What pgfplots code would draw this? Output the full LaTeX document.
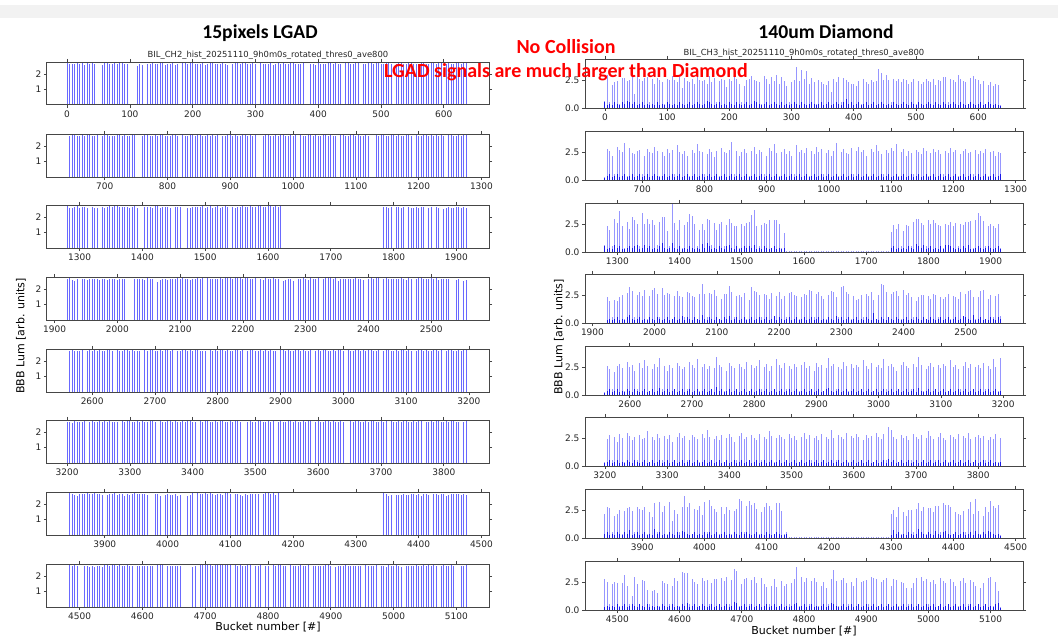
\documentclass[border=0pt]{standalone}
\usepackage{pgfplots}
\pgfplotsset{compat=1.18}
\usepackage{pgfplotstable}
\usepackage{fontspec}
\setmainfont{DejaVu Sans}
\newfontfamily\carlito{Carlito}
\definecolor{lg}{RGB}{105,105,255}
\definecolor{dl}{RGB}{150,150,255}
\definecolor{dd}{RGB}{25,25,230}
\definecolor{spine}{RGB}{70,70,70}

\pgfplotsset{
  common/.style={scale only axis, axis on top, anchor=north west,
    xtick distance=100, tick align=outside, xtick pos=both, ytick pos=both,
    major tick length=1.6pt,
    tick style={spine, line width=0.35pt},
    axis line style={spine, line width=0.5pt},
    tick label style={font=\fontsize{4.5}{5}\selectfont, text=black!85, inner sep=1pt},
    /pgf/number format/assume math mode=true, /pgf/number format/1000 sep={},
    scaled ticks=false},
  lgad/.style={common, width=221pt, height=21.5pt, ymin=0, ymax=2.8, ytick={1,2}},
  diam/.style={common, width=219pt, height=24.5pt, ymin=0, ymax=4.4, ytick={0,2.5},
    yticklabel style={/pgf/number format/.cd, fixed, fixed zerofill, precision=1}},
  lbar/.style={ycomb, no markers, draw=lg, line width=0.45pt},
  dbar/.style={ycomb, no markers, draw=dl, line width=0.45pt},
  sbar/.style={ycomb, no markers, draw=dd, line width=0.45pt},
}

% Diamond data: tall value, short (dark) value per 4-bucket slot
\pgfplotstableread[row sep=\\, header=false]{
0.6 0.5\\3.0 0.3\\0.5 0.4\\2.1 0.3\\2.3 0.5\\2.4 0.4\\0.4 0.3\\2.7 0.5\\2.7 0.4\\2.4 0.6\\
2.5 0.5\\2.9 0.4\\1.3 0.5\\2.8 0.3\\2.6 0.4\\2.4 0.5\\2.7 0.3\\2.8 0.4\\0.5 0.3\\2.6 0.4\\
2.2 0.3\\2.7 0.5\\2.5 0.3\\2.3 0.4\\0.4 0.3\\2.6 0.5\\2.5 0.4\\2.9 0.3\\2.5 0.4\\2.3 0.3\\
2.8 0.5\\1.8 0.4\\2.7 0.3\\2.4 0.4\\2.3 0.5\\2.6 0.3\\2.2 0.4\\2.9 0.5\\2.5 0.4\\2.4 0.3\\
2.5 0.4\\2.2 0.6\\2.9 0.5\\2.3 0.4\\2.7 0.3\\0.5 0.4\\2.4 0.5\\2.6 0.3\\2.5 0.4\\1.9 0.3\\
2.6 0.5\\2.4 0.4\\2.8 0.3\\2.6 0.5\\2.2 0.4\\0.5 0.3\\2.0 0.4\\2.5 0.5\\2.6 0.3\\2.9 0.4\\
2.5 0.6\\2.4 0.5\\2.3 0.4\\0.4 0.3\\2.9 0.4\\2.6 0.5\\2.2 0.3\\2.8 0.4\\2.4 0.5\\3.0 0.4\\
2.2 0.3\\2.8 0.5\\2.4 0.3\\2.0 0.4\\0.5 0.3\\2.3 0.4\\2.5 0.5\\3.7 0.4\\2.4 0.3\\3.4 0.5\\
2.6 0.4\\3.3 0.3\\2.2 0.4\\2.7 0.5\\2.3 0.4\\0.4 0.3\\2.5 0.4\\2.3 0.5\\2.2 0.3\\2.1 0.4\\
2.4 0.5\\1.4 0.3\\2.6 0.4\\2.3 0.5\\2.8 0.4\\0.5 0.3\\2.7 0.5\\2.5 0.8\\2.3 0.4\\2.2 0.5\\
2.2 0.3\\2.0 0.4\\2.4 0.5\\0.4 0.3\\2.6 0.4\\2.3 0.5\\2.2 0.3\\2.5 0.4\\2.3 0.5\\2.4 0.3\\
3.5 0.4\\3.1 0.5\\2.5 0.4\\3.0 0.3\\2.5 0.4\\0.5 0.3\\2.6 0.5\\2.4 0.4\\2.6 0.3\\2.3 0.4\\
2.6 0.5\\2.5 0.4\\2.2 0.3\\2.3 0.5\\2.6 0.4\\0.4 0.3\\2.4 0.5\\2.2 0.4\\2.3 0.3\\2.6 0.4\\
2.4 0.5\\2.3 0.4\\2.6 0.3\\2.1 0.5\\2.5 0.4\\2.4 0.3\\2.8 0.5\\2.8 0.4\\0.5 0.3\\2.6 0.4\\
2.5 0.5\\2.3 0.4\\3.0 0.3\\2.6 0.5\\2.4 0.4\\2.3 0.3\\0.4 0.4\\2.7 0.5\\2.9 0.4\\2.6 0.3\\
2.5 0.4\\2.2 0.5\\2.4 0.3\\0.4 0.4\\2.1 0.5\\2.3 0.4\\2.0 0.3\\2.2 0.4\\2.1 0.3\\0.3 0.2\\
}\dA
\pgfplotstableread[row sep=\\, header=false]{
0.3 0.2\\2.8 0.4\\2.6 0.5\\2.2 0.3\\0.5 0.4\\3.0 0.5\\2.7 0.3\\2.5 0.4\\3.3 0.5\\0.4 0.3\\
2.9 0.4\\2.4 0.5\\2.3 0.3\\2.6 0.4\\2.7 0.5\\0.5 0.3\\2.2 0.4\\2.8 0.5\\2.5 0.3\\2.4 0.4\\
3.0 0.5\\2.6 0.4\\0.4 0.3\\2.5 0.4\\2.2 0.5\\2.8 0.3\\2.4 0.4\\2.7 0.5\\0.5 0.3\\3.1 0.4\\
2.5 0.5\\2.3 0.3\\2.6 0.4\\2.2 0.5\\0.4 0.3\\2.7 0.4\\2.4 0.5\\3.2 0.3\\2.6 0.4\\2.5 0.5\\
0.5 0.3\\2.3 0.4\\2.8 0.5\\2.5 0.3\\2.1 0.4\\2.6 0.5\\0.4 0.3\\2.9 0.4\\2.5 0.5\\2.4 0.3\\
2.7 0.4\\3.4 0.5\\0.5 0.3\\2.6 0.4\\2.2 0.5\\2.5 0.3\\2.8 0.4\\2.4 0.5\\0.4 0.3\\2.6 0.4\\
3.0 0.5\\2.3 0.3\\2.7 0.4\\2.5 0.5\\0.5 0.3\\2.2 0.4\\2.9 0.5\\2.6 0.3\\3.2 0.4\\2.4 0.5\\
0.4 0.3\\2.5 0.4\\2.8 0.5\\2.3 0.3\\2.6 0.4\\2.2 0.5\\0.5 0.3\\3.1 0.4\\2.5 0.5\\2.7 0.3\\
2.4 0.4\\2.9 0.5\\0.4 0.3\\2.6 0.4\\2.3 0.5\\3.0 0.3\\2.5 0.4\\2.8 0.5\\0.5 0.3\\2.4 0.4\\
2.7 0.5\\2.2 0.3\\2.6 0.4\\3.3 0.5\\0.4 0.3\\2.5 0.4\\2.8 0.5\\2.4 0.3\\2.3 0.4\\2.9 0.5\\
0.5 0.3\\2.6 0.4\\3.0 0.5\\2.5 0.3\\2.7 0.4\\2.2 0.5\\0.4 0.3\\2.8 0.4\\2.5 0.5\\3.1 0.3\\
2.6 0.4\\2.3 0.5\\0.5 0.3\\2.7 0.4\\2.4 0.5\\2.9 0.3\\2.6 0.4\\3.2 0.5\\0.4 0.3\\2.5 0.4\\
2.8 0.5\\2.2 0.3\\2.6 0.4\\2.4 0.5\\0.5 0.3\\2.7 0.4\\2.5 0.5\\2.3 0.3\\2.9 0.4\\2.6 0.5\\
0.4 0.3\\2.4 0.4\\2.8 0.5\\2.5 0.3\\2.7 0.4\\2.3 0.5\\0.5 0.3\\2.6 0.4\\2.4 0.5\\2.9 0.3\\
2.5 0.4\\2.7 0.5\\0.4 0.3\\2.3 0.4\\2.6 0.5\\2.8 0.3\\2.4 0.4\\2.5 0.5\\0.5 0.3\\2.7 0.4\\
2.3 0.5\\2.6 0.3\\2.4 0.4\\2.8 0.5\\0.4 0.3\\2.5 0.4\\2.6 0.5\\2.2 0.3\\2.5 0.4\\2.4 0.5\\
}\dB
\pgfplotstableread[row sep=\\, header=false]{
0.6 0.5\\2.3 0.3\\2.0 0.4\\0.5 0.3\\3.0 0.6\\2.6 0.4\\3.7 0.5\\2.3 0.3\\0.4 0.3\\2.7 0.4\\
2.1 0.5\\3.1 0.4\\2.9 0.5\\2.5 0.6\\0.5 0.3\\3.5 0.4\\2.5 0.6\\3.0 0.4\\2.5 0.5\\2.9 0.3\\
2.4 0.4\\0.6 0.3\\2.7 0.5\\3.1 0.8\\3.1 0.4\\1.9 0.3\\0.5 0.4\\4.3 0.8\\2.6 0.4\\2.0 0.3\\
2.9 0.5\\0.4 0.3\\2.4 0.4\\2.7 0.3\\3.4 0.5\\3.2 0.4\\2.5 0.3\\0.5 0.4\\2.0 0.3\\2.5 0.7\\
2.0 0.4\\3.0 0.8\\2.9 0.5\\0.6 0.3\\2.6 0.4\\2.0 0.3\\2.5 0.5\\2.7 0.4\\0.5 0.3\\2.4 0.5\\
3.0 0.6\\2.6 0.4\\2.3 0.3\\2.3 0.5\\0.4 0.3\\2.5 0.4\\2.3 0.5\\2.6 0.4\\2.7 0.5\\3.3 0.4\\
3.8 0.6\\2.3 0.3\\0.5 0.4\\2.4 0.3\\2.6 0.5\\2.5 0.4\\2.9 0.3\\0.4 0.4\\2.9 0.5\\2.9 0.3\\
2.5 0.4\\0.4 0.3\\1.7 0.4\\0.1 0\\0.12 0\\0.08 0\\0.1 0\\0.12 0\\0.1 0\\0.08 0\\
0.1 0\\0.12 0\\0.1 0\\0.08 0\\0.1 0\\0.12 0\\0.1 0\\0.1 0\\0.08 0\\0.1 0\\
0.12 0\\0.1 0\\0.08 0\\0.1 0\\0.12 0\\0.1 0\\0.08 0\\0.1 0\\0.12 0\\0.1 0\\
0.08 0\\0.1 0\\0.12 0\\0.1 0\\0.1 0\\0.08 0\\0.12 0\\0.1 0\\0.1 0\\0.08 0\\
0.1 0\\0.12 0\\0.1 0\\0.08 0\\0.1 0\\1.8 0.4\\2.4 0.5\\2.1 0.3\\2.5 0.4\\0.5 0.3\\
1.9 0.4\\2.4 0.3\\2.3 0.5\\0.5 0.4\\2.7 0.3\\3.0 0.7\\3.0 0.5\\2.6 0.4\\2.4 0.6\\0.5 0.3\\
2.9 0.4\\2.5 0.5\\2.9 0.3\\2.6 0.4\\2.4 0.3\\2.3 0.5\\0.4 0.3\\2.5 0.6\\2.4 0.6\\2.7 0.5\\
2.3 0.4\\2.6 0.3\\0.5 0.4\\2.5 0.3\\2.4 0.5\\2.7 0.4\\2.7 0.6\\2.8 0.3\\0.4 0.3\\2.9 0.4\\
3.5 0.5\\3.2 0.4\\2.8 0.3\\0.5 0.4\\2.3 0.5\\2.5 0.4\\2.3 0.3\\2.2 0.4\\2.5 0.5\\0.4 0.3\\
}\dC
\pgfplotstableread[row sep=\\, header=false]{
0 0\\2.3 0.3\\2.0 0.4\\0.5 0.3\\2.1 0.4\\2.0 0.5\\2.3 0.3\\2.5 0.4\\0.4 0.3\\2.7 0.5\\
3.2 0.7\\2.9 0.4\\0.5 0.3\\2.5 0.4\\2.8 0.5\\2.4 0.3\\3.0 0.4\\0.4 0.3\\2.4 0.5\\3.0 0.4\\
3.1 0.3\\2.6 0.5\\0.5 0.4\\3.1 0.3\\2.5 0.4\\2.7 0.5\\2.6 0.3\\0.4 0.4\\2.4 0.5\\2.9 0.3\\
2.4 0.4\\2.3 0.6\\0.5 0.3\\2.8 0.5\\2.7 0.4\\2.4 0.3\\2.3 0.5\\0.4 0.4\\2.6 0.3\\3.5 0.7\\
2.6 0.4\\0.5 0.3\\2.7 0.5\\2.6 0.4\\3.0 0.3\\2.4 0.5\\0.4 0.4\\2.2 0.3\\2.6 0.5\\2.6 0.4\\
3.3 0.6\\2.8 0.3\\0.5 0.4\\2.4 0.5\\2.5 0.3\\2.3 0.4\\2.7 0.5\\0.4 0.3\\2.1 0.4\\3.2 0.5\\
2.9 0.3\\2.8 0.4\\2.5 0.5\\0.5 0.3\\2.6 0.4\\2.5 0.5\\2.2 0.3\\2.7 0.4\\0.4 0.6\\2.4 0.3\\
2.8 0.5\\2.2 0.4\\2.4 0.3\\0.5 0.4\\2.7 0.5\\2.8 0.3\\2.5 0.4\\2.4 0.5\\0.4 0.3\\2.3 0.4\\
2.6 0.5\\2.5 0.3\\3.0 0.4\\2.9 0.5\\0.5 0.3\\2.6 0.4\\2.8 0.5\\2.4 0.3\\2.2 0.4\\0.4 0.3\\
2.5 0.5\\2.9 0.4\\2.8 0.3\\2.3 0.6\\0.5 0.4\\3.2 0.5\\3.3 0.3\\2.8 0.4\\2.6 0.5\\0.4 0.3\\
2.4 0.4\\2.1 0.5\\2.2 0.3\\2.5 0.4\\0.5 0.3\\2.6 0.5\\2.4 0.4\\2.8 0.3\\2.1 0.9\\0.4 0.4\\
2.5 0.3\\3.5 0.5\\3.4 0.4\\2.8 0.3\\0.5 0.5\\2.6 0.4\\2.8 0.3\\2.9 0.5\\2.4 0.4\\0.4 0.3\\
3.0 0.4\\2.5 0.5\\2.7 0.3\\2.3 0.4\\0.5 0.3\\2.0 0.5\\2.3 0.4\\2.5 0.3\\2.5 0.5\\0.4 0.4\\
2.4 0.3\\2.2 0.5\\2.6 0.4\\2.5 0.3\\0.5 0.4\\2.3 0.5\\2.2 0.3\\2.3 0.4\\2.6 0.5\\0.4 0.3\\
2.4 0.4\\2.3 0.5\\2.2 0.3\\2.8 0.4\\0.5 0.6\\2.6 0.5\\2.9 0.4\\3.0 0.3\\2.3 0.7\\0.4 0.3\\
2.3 0.4\\2.9 0.5\\3.0 0.3\\0.4 0.4\\2.2 0.3\\2.5 0.5\\0.5 0.4\\2.4 0.3\\2.6 0.5\\0.6 0.4\\
}\dD
\pgfplotstableread[row sep=\\, header=false]{
0.3 0.2\\2.6 0.4\\2.3 0.5\\0.5 0.3\\2.1 0.4\\2.6 0.5\\2.8 0.3\\2.4 0.4\\0.4 0.3\\3.0 0.5\\
2.5 0.4\\2.7 0.3\\2.2 0.5\\0.5 0.4\\2.9 0.3\\2.4 0.4\\3.1 0.5\\2.6 0.3\\0.4 0.4\\2.3 0.5\\
2.8 0.3\\2.5 0.4\\3.3 0.6\\0.5 0.3\\2.6 0.4\\2.2 0.5\\2.7 0.3\\2.4 0.4\\0.4 0.5\\2.9 0.3\\
2.6 0.4\\2.3 0.5\\2.5 0.3\\0.5 0.4\\3.0 0.5\\2.7 0.3\\2.4 0.4\\3.2 0.5\\0.4 0.3\\2.5 0.4\\
2.8 0.5\\2.3 0.3\\2.6 0.4\\0.5 0.5\\2.4 0.3\\3.4 0.7\\2.7 0.4\\2.5 0.5\\0.4 0.3\\2.2 0.4\\
2.9 0.5\\2.6 0.3\\2.4 0.4\\0.5 0.5\\2.8 0.3\\2.5 0.4\\2.3 0.5\\3.0 0.3\\0.4 0.4\\2.7 0.5\\
2.4 0.3\\2.6 0.4\\3.1 0.5\\0.5 0.3\\2.5 0.4\\2.8 0.5\\2.2 0.3\\2.6 0.4\\0.4 0.5\\3.2 0.3\\
2.7 0.4\\2.4 0.5\\2.9 0.3\\0.5 0.4\\2.6 0.5\\2.3 0.3\\2.8 0.4\\2.5 0.5\\0.4 0.3\\2.7 0.4\\
3.0 0.5\\2.4 0.3\\2.6 0.4\\0.5 0.5\\2.2 0.3\\2.9 0.4\\2.5 0.5\\2.7 0.3\\0.4 0.4\\2.4 0.5\\
3.3 0.6\\2.6 0.4\\2.8 0.3\\0.5 0.4\\2.5 0.5\\2.3 0.3\\3.0 0.4\\2.6 0.5\\0.4 0.3\\2.8 0.4\\
2.4 0.5\\2.7 0.3\\2.5 0.4\\0.5 0.5\\3.1 0.3\\2.6 0.4\\2.3 0.5\\2.9 0.3\\0.4 0.4\\2.5 0.5\\
2.7 0.3\\2.4 0.4\\3.2 0.5\\0.5 0.3\\2.6 0.4\\2.8 0.5\\2.5 0.3\\2.2 0.4\\0.4 0.5\\2.7 0.3\\
3.0 0.4\\2.6 0.5\\2.4 0.3\\0.5 0.4\\2.8 0.5\\2.5 0.3\\3.4 0.6\\2.7 0.4\\0.4 0.3\\2.3 0.4\\
2.6 0.5\\2.9 0.3\\2.5 0.4\\0.5 0.5\\2.7 0.3\\2.4 0.4\\2.8 0.5\\2.6 0.3\\0.4 0.4\\3.1 0.5\\
2.5 0.3\\2.7 0.4\\2.3 0.5\\0.5 0.3\\2.6 0.4\\3.0 0.5\\2.4 0.3\\2.8 0.4\\0.4 0.5\\2.5 0.3\\
2.7 0.4\\2.4 0.5\\2.9 0.3\\0.5 0.4\\2.6 0.5\\2.3 0.3\\3.2 0.4\\2.5 0.5\\0.4 0.3\\3.3 0.4\\
}\dE
\pgfplotstableread[row sep=\\, header=false]{
0.4 0.3\\2.4 0.4\\2.8 0.5\\0.5 0.3\\2.6 0.4\\2.2 0.5\\2.9 0.3\\2.5 0.4\\0.4 0.3\\3.0 0.5\\
2.7 0.4\\2.3 0.3\\2.6 0.5\\0.5 0.4\\2.8 0.3\\2.4 0.4\\2.5 0.5\\3.1 0.3\\0.4 0.4\\2.6 0.5\\
2.3 0.3\\2.9 0.4\\2.5 0.5\\0.5 0.3\\2.7 0.4\\2.4 0.5\\2.8 0.3\\2.2 0.4\\0.4 0.5\\2.6 0.3\\
3.0 0.4\\2.5 0.5\\2.7 0.3\\0.5 0.4\\2.3 0.5\\2.8 0.3\\2.6 0.4\\2.4 0.5\\0.4 0.3\\2.9 0.4\\
2.5 0.5\\3.2 0.3\\2.6 0.4\\0.5 0.5\\2.4 0.3\\2.7 0.4\\2.3 0.5\\2.8 0.3\\0.4 0.4\\2.5 0.5\\
2.9 0.3\\2.6 0.4\\2.2 0.5\\0.5 0.3\\2.7 0.4\\3.0 0.5\\2.4 0.3\\2.6 0.4\\0.4 0.5\\2.8 0.3\\
2.5 0.4\\2.3 0.5\\2.9 0.3\\0.5 0.4\\2.6 0.5\\2.4 0.3\\3.1 0.4\\2.7 0.5\\0.4 0.3\\2.5 0.4\\
2.8 0.5\\2.6 0.3\\2.4 0.4\\0.5 0.5\\2.9 0.3\\2.5 0.4\\2.7 0.5\\2.3 0.3\\0.4 0.4\\2.6 0.5\\
3.0 0.3\\2.4 0.4\\2.8 0.5\\0.5 0.3\\2.5 0.4\\2.7 0.5\\2.3 0.3\\2.9 0.4\\0.4 0.5\\2.6 0.3\\
2.4 0.4\\3.2 0.5\\2.5 0.3\\0.5 0.4\\2.8 0.5\\2.6 0.3\\2.4 0.4\\3.0 0.5\\0.4 0.3\\2.7 0.4\\
2.5 0.5\\2.9 0.3\\2.6 0.4\\0.5 0.5\\2.3 0.3\\2.8 0.4\\2.5 0.5\\2.7 0.3\\0.4 0.4\\3.0 0.5\\
2.6 0.3\\2.4 0.4\\2.9 0.5\\0.5 0.3\\3.5 0.6\\3.2 0.4\\2.6 0.5\\2.4 0.3\\0.4 0.4\\2.8 0.5\\
2.5 0.3\\2.7 0.4\\2.3 0.5\\0.5 0.3\\2.9 0.4\\2.6 0.5\\2.4 0.3\\2.8 0.4\\0.4 0.5\\2.5 0.3\\
3.1 0.4\\2.7 0.5\\2.4 0.3\\0.5 0.4\\2.6 0.5\\3.0 0.3\\2.5 0.4\\2.3 0.5\\0.4 0.3\\2.8 0.4\\
2.6 0.5\\2.4 0.3\\2.9 0.4\\0.5 0.5\\2.7 0.3\\2.5 0.4\\3.0 0.5\\2.4 0.3\\0.4 0.4\\2.6 0.5\\
2.8 0.3\\2.5 0.4\\2.7 0.5\\0.5 0.3\\2.3 0.4\\2.6 0.5\\2.4 0.3\\2.9 0.4\\0.4 0.3\\2.5 0.4\\
}\dF
\pgfplotstableread[row sep=\\, header=false]{
2.2 0.4\\2.8 0.5\\2.7 0.3\\0.5 0.4\\2.0 0.3\\2.2 0.5\\2.5 0.4\\0.4 0.3\\2.4 0.5\\2.7 0.4\\
2.8 0.7\\2.4 0.3\\0.5 0.4\\2.8 0.5\\2.6 0.3\\2.5 0.4\\2.8 0.5\\0.4 0.3\\2.3 0.4\\1.9 0.3\\
3.1 0.8\\0.5 0.4\\3.2 0.5\\2.3 0.3\\2.9 0.4\\0.4 0.3\\3.2 0.5\\1.5 0.4\\2.5 0.3\\2.2 0.5\\
0.5 0.3\\2.8 0.6\\3.8 0.5\\2.8 0.4\\3.1 0.3\\0.4 0.4\\2.6 0.5\\2.5 0.3\\2.9 0.4\\2.1 0.3\\
3.2 0.5\\0.5 0.4\\3.4 0.5\\2.9 0.3\\2.6 0.4\\2.3 0.5\\0.4 0.3\\2.8 0.4\\2.2 0.5\\2.8 0.3\\
2.5 0.4\\0.4 0.3\\2.4 0.5\\2.6 0.4\\3.5 0.3\\3.3 0.5\\0.5 0.4\\2.9 0.5\\3.3 0.4\\3.0 0.3\\
3.1 0.4\\2.6 0.5\\0.4 0.3\\2.3 0.4\\2.8 0.3\\3.1 0.5\\2.9 0.4\\2.5 0.3\\0.4 0.4\\3.1 0.5\\
3.1 0.4\\2.4 0.3\\0.4 0.3\\0.5 0.4\\0.08 0\\0.1 0\\0.08 0\\0.1 0\\0.06 0\\0.08 0\\
0.1 0\\0.08 0\\0.06 0\\0.1 0\\0.08 0\\0.1 0\\0.06 0\\0.08 0\\0.1 0\\0.08 0\\
0.06 0\\0.1 0\\0.08 0\\0.1 0\\0.06 0\\0.08 0\\0.1 0\\0.08 0\\0.06 0\\0.1 0\\
0.08 0\\0.1 0\\0.06 0\\0.08 0\\0.1 0\\0.08 0\\0.06 0\\0.1 0\\0.08 0\\0.1 0\\
0.06 0\\0.08 0\\0.1 0\\0.08 0\\0.06 0\\2.2 0.3\\2.5 0.7\\1.9 0.4\\2.8 0.5\\0.4 0.3\\
2.3 0.4\\2.0 0.3\\2.5 0.5\\2.5 0.4\\0.5 0.3\\2.6 0.4\\3.1 0.8\\2.4 0.5\\2.8 0.4\\0.4 0.3\\
2.7 0.5\\2.7 0.4\\2.3 0.3\\2.9 0.6\\2.9 0.4\\0.5 0.3\\3.1 0.5\\3.0 0.6\\3.0 0.4\\2.8 0.3\\
0.4 0.4\\2.3 0.5\\2.2 0.3\\2.1 0.4\\2.4 0.5\\0.5 0.3\\2.6 0.4\\3.2 0.5\\2.2 0.3\\3.5 0.6\\
2.4 0.4\\0.4 0.3\\2.0 0.5\\2.8 0.4\\2.3 0.6\\3.3 0.5\\2.9 0.4\\2.7 0.3\\3.0 0.4\\0.3 0.2\\
}\dG
\pgfplotstableread[row sep=\\, header=false]{
2.8 0.3\\2.5 0.4\\0.5 0.3\\2.3 0.4\\2.5 0.3\\2.4 0.5\\0.4 0.3\\2.4 0.4\\3.1 0.5\\2.2 0.3\\
0.5 0.4\\1.3 0.5\\3.0 0.4\\2.3 0.3\\0.4 0.5\\2.7 0.4\\2.6 0.3\\1.8 0.5\\0.5 0.3\\1.7 0.4\\
1.8 0.3\\1.5 0.4\\0.4 0.3\\2.6 0.5\\2.4 0.4\\2.3 0.3\\0.5 0.4\\2.2 0.5\\2.9 0.3\\2.6 0.4\\
0.4 0.3\\3.4 0.5\\3.3 0.4\\3.3 0.6\\0.5 0.3\\2.8 0.4\\2.5 0.5\\2.3 0.3\\0.4 0.4\\2.9 0.5\\
2.6 0.4\\2.7 0.3\\0.5 0.4\\2.4 0.5\\2.8 0.3\\2.8 0.4\\0.4 0.5\\2.9 0.3\\2.6 0.4\\3.0 0.5\\
0.5 0.3\\2.7 0.4\\3.7 0.7\\3.5 0.6\\0.4 0.3\\2.3 0.4\\2.8 0.5\\2.9 0.3\\0.5 0.4\\2.7 0.5\\
3.0 0.3\\2.4 0.4\\0.4 0.5\\2.9 0.3\\2.3 0.4\\2.1 0.5\\0.5 0.3\\2.2 0.4\\2.8 0.5\\2.1 0.3\\
0.4 0.4\\2.6 0.5\\2.2 0.3\\2.3 0.4\\0.5 0.3\\2.4 0.4\\2.8 0.5\\3.9 0.6\\0.4 0.3\\3.0 0.4\\
2.5 0.5\\2.9 0.3\\0.5 0.4\\2.6 0.5\\2.9 0.3\\2.5 0.4\\0.4 0.3\\2.2 0.4\\2.5 0.5\\2.0 0.3\\
0.5 0.4\\2.8 0.6\\3.6 0.5\\2.6 0.4\\0.4 0.3\\2.7 0.4\\2.9 0.5\\2.4 0.3\\0.5 0.4\\2.5 0.5\\
2.2 0.3\\2.9 0.4\\0.4 0.5\\2.5 0.3\\2.6 0.4\\2.7 0.5\\0.5 0.3\\3.0 0.4\\2.9 0.5\\2.8 0.3\\
0.4 0.4\\2.5 0.5\\2.7 0.3\\2.9 0.4\\0.5 0.5\\2.2 0.3\\2.8 0.4\\2.7 0.5\\0.4 0.3\\2.5 0.4\\
2.4 0.5\\2.0 0.3\\0.5 0.4\\2.0 0.5\\2.4 0.3\\2.9 0.4\\0.4 0.5\\3.0 0.3\\2.6 0.4\\2.8 0.5\\
0.5 0.3\\2.5 0.4\\2.7 0.5\\2.3 0.3\\0.4 0.4\\2.9 0.5\\2.6 0.3\\2.4 0.4\\0.5 0.5\\2.8 0.3\\
2.5 0.4\\2.2 0.5\\0.4 0.3\\2.6 0.4\\2.9 0.5\\2.4 0.3\\0.5 0.4\\2.7 0.5\\2.5 0.3\\2.2 0.4\\
0.4 0.5\\2.0 0.3\\2.4 0.4\\0.5 0.5\\2.9 0.3\\3.0 0.4\\0.4 0.3\\2.5 0.5\\1.7 0.6\\0.3 0.2\\
}\dH

\newcommand{\onee}{\node[anchor=south west, inner sep=0pt, font=\fontsize{2.8}{3}\selectfont, text=black!85] at (rel axis cs:0,1) [yshift=0.8pt] {1e4};}

\begin{document}
\begin{tikzpicture}
\fill[white] (0,0) rectangle (529pt,-318.5pt);
\fill[black!5] (0,-2.5pt) rectangle (529pt,-9pt);
\path[use as bounding box] (0,0) rectangle (529pt,-318.5pt);

% ---------------- LGAD column ----------------
\begin{axis}[lgad, at={(23.5pt,-31pt)}, xmin=-32, xmax=672]
\addplot[lbar] table[row sep=\\, header=false, x expr=\coordindex*4, y index=0] {
2.8\\2.65\\2.7\\2.7\\2.75\\2.7\\2.8\\2.6\\2.75\\2.7\\
2.8\\2.65\\0\\0\\2.6\\2.75\\2.8\\2.7\\2.65\\2.75\\
2.7\\2.75\\2.8\\2.65\\2.7\\0\\0\\0\\2.55\\2.65\\
2.6\\0\\2.7\\2.7\\2.75\\2.65\\2.7\\2.8\\2.75\\2.6\\
2.65\\2.7\\2.75\\2.6\\2.65\\0\\2.75\\2.8\\2.7\\2.8\\
2.75\\2.7\\2.65\\2.7\\2.75\\2.6\\2.7\\2.75\\2.8\\2.7\\
2.65\\2.7\\2.75\\2.7\\2.6\\0\\2.7\\2.8\\2.75\\2.7\\
2.8\\2.75\\2.7\\2.65\\2.8\\2.7\\0\\2.75\\2.7\\2.65\\
2.7\\2.75\\2.6\\2.7\\2.8\\2.7\\2.75\\2.65\\2.7\\2.75\\
2.8\\2.7\\2.65\\2.7\\2.75\\0\\0\\2.65\\2.7\\2.6\\
2.75\\2.7\\2.65\\2.7\\2.75\\2.8\\2.7\\2.75\\2.7\\2.65\\
0\\2.75\\2.8\\2.7\\2.65\\2.8\\2.75\\0\\2.7\\2.65\\
2.8\\2.75\\2.7\\2.8\\2.75\\2.65\\2.7\\2.75\\2.8\\2.7\\
0\\2.7\\2.75\\2.8\\2.65\\2.7\\2.75\\2.8\\2.7\\2.65\\
2.7\\2.75\\2.8\\2.7\\2.65\\2.75\\2.8\\2.7\\2.75\\2.8\\
0\\2.65\\2.75\\2.7\\2.65\\2.75\\2.8\\2.7\\2.75\\2.8\\
};
\onee
\end{axis}

\begin{axis}[lgad, at={(23.5pt,-67pt)}, xmin=608, xmax=1312]
\addplot[lbar] table[row sep=\\, header=false, x expr=\coordindex*4+640, y index=0] {
0\\2.7\\2.75\\2.8\\2.7\\2.65\\2.75\\2.7\\2.8\\2.75\\
2.7\\2.65\\2.75\\0\\2.7\\2.8\\2.75\\2.7\\2.65\\2.7\\
2.75\\2.8\\2.7\\2.75\\2.65\\2.7\\2.8\\2.75\\0\\0\\
2.7\\2.75\\2.8\\2.7\\2.65\\2.75\\2.7\\2.8\\2.75\\2.7\\
2.65\\2.7\\2.8\\2.75\\2.7\\0\\2.75\\2.7\\2.65\\2.8\\
2.75\\2.7\\2.75\\2.8\\2.7\\2.65\\2.75\\2.7\\2.8\\2.7\\
2.75\\0\\2.7\\2.65\\2.75\\2.8\\2.7\\2.75\\2.7\\2.65\\
2.8\\2.75\\2.7\\2.75\\2.65\\2.8\\0\\0\\2.7\\2.75\\
2.8\\2.7\\2.65\\2.75\\2.7\\2.8\\2.75\\2.7\\2.65\\2.75\\
2.7\\2.8\\0\\2.75\\2.7\\2.65\\2.75\\2.8\\2.7\\2.75\\
2.65\\2.7\\2.8\\2.75\\2.7\\2.75\\2.65\\2.7\\0\\2.8\\
2.75\\2.7\\2.65\\2.75\\2.8\\2.7\\2.75\\2.7\\2.65\\2.8\\
2.7\\0\\0\\2.75\\2.7\\2.8\\2.75\\2.65\\2.7\\2.75\\
2.8\\2.7\\2.75\\2.65\\2.7\\2.8\\2.75\\2.7\\0\\2.75\\
2.7\\2.65\\2.8\\2.75\\2.7\\2.75\\2.65\\2.8\\2.7\\2.75\\
2.7\\0\\2.75\\2.8\\2.7\\2.65\\2.75\\2.7\\2.8\\2.75\\
};
\onee
\end{axis}

\begin{axis}[lgad, at={(23.5pt,-102.5pt)}, xmin=1248, xmax=1952]
\addplot[lbar] table[row sep=\\, header=false, x expr=\coordindex*4+1280, y index=0] {
2.8\\2.6\\2.6\\2.65\\2.75\\2.6\\2.7\\2.7\\2.6\\0\\
2.7\\2.6\\2.6\\0\\2.65\\2.6\\2.7\\2.75\\2.7\\2.8\\
2.8\\2.7\\2.65\\2.7\\2.7\\2.6\\2.7\\2.8\\2.6\\0\\
0\\2.7\\2.7\\2.65\\2.6\\2.75\\2.8\\2.6\\2.7\\2.65\\
2.65\\2.6\\0\\2.7\\2.7\\2.65\\0\\0\\2.6\\2.6\\
2.7\\2.7\\2.65\\2.7\\2.8\\2.6\\2.7\\2.75\\2.6\\2.7\\
2.75\\2.6\\2.7\\2.8\\2.7\\0\\2.7\\2.6\\2.7\\2.7\\
2.75\\2.7\\2.65\\2.8\\2.7\\2.7\\2.8\\2.75\\2.7\\2.7\\
2.75\\2.8\\2.7\\2.75\\2.7\\2.75\\0\\0\\0\\0\\
0\\0\\0\\0\\0\\0\\0\\0\\0\\0\\
0\\0\\0\\0\\0\\0\\0\\0\\0\\0\\
0\\0\\0\\0\\0\\0\\0\\0\\0\\0\\
0\\0\\0\\0\\0\\0\\2.7\\2.65\\2.6\\2.7\\
0\\2.65\\2.65\\2.6\\2.65\\0\\2.65\\2.6\\2.6\\2.65\\
2.6\\2.65\\2.7\\0\\2.6\\2.65\\0\\2.7\\2.6\\0\\
2.55\\2.6\\2.65\\2.6\\2.6\\2.65\\2.65\\2.6\\2.65\\2.6\\
};
\onee
\end{axis}

\begin{axis}[lgad, at={(23.5pt,-138.5pt)}, xmin=1888, xmax=2592]
\addplot[lbar] table[row sep=\\, header=false, x expr=\coordindex*4+1920, y index=0] {
2.7\\2.75\\2.6\\2.55\\2.65\\0\\2.7\\2.65\\2.6\\2.7\\
2.7\\2.65\\2.7\\2.6\\2.7\\2.65\\2.6\\2.7\\2.65\\2.7\\
2.6\\2.7\\2.65\\2.7\\0\\0\\0\\2.7\\2.7\\2.65\\
2.7\\2.6\\2.75\\2.65\\2.7\\0\\2.5\\2.6\\2.7\\2.65\\
2.6\\2.7\\2.65\\2.7\\2.75\\2.7\\2.75\\2.7\\2.65\\2.6\\
2.7\\2.65\\2.75\\2.7\\2.75\\0\\2.75\\2.65\\2.7\\2.65\\
2.7\\2.75\\2.7\\2.75\\2.8\\2.75\\2.7\\2.75\\2.8\\2.75\\
2.7\\2.75\\2.8\\2.7\\2.65\\2.75\\0\\2.7\\2.6\\2.75\\
2.65\\2.7\\2.75\\2.7\\2.65\\0\\2.55\\2.6\\2.65\\2.7\\
2.55\\0\\2.7\\2.65\\2.75\\2.7\\2.6\\2.75\\2.7\\2.65\\
2.75\\0\\2.7\\2.75\\2.8\\2.75\\2.7\\2.75\\2.55\\2.7\\
2.65\\2.7\\2.7\\2.65\\2.7\\2.75\\2.7\\2.65\\2.6\\0\\
2.7\\2.75\\2.7\\2.75\\2.8\\0\\2.7\\2.75\\2.7\\2.7\\
2.7\\2.65\\2.7\\2.75\\2.7\\2.6\\2.75\\2.7\\0\\2.65\\
2.75\\2.75\\2.65\\2.7\\2.7\\2.75\\2.7\\2.8\\2.6\\2.7\\
2.65\\2.7\\2.65\\0\\0\\2.6\\2.65\\0\\2.55\\2.6\\
};
\onee
\end{axis}

\begin{axis}[lgad, at={(23.5pt,-174.5pt)}, xmin=2528, xmax=3232]
\addplot[lbar] table[row sep=\\, header=false, x expr=\coordindex*4+2560, y index=0] {
0\\2.7\\2.75\\2.7\\2.65\\2.7\\2.75\\0\\2.7\\2.75\\
2.7\\2.8\\2.7\\2.75\\2.7\\2.65\\2.75\\2.8\\2.7\\0\\
2.75\\2.7\\2.65\\2.75\\2.8\\2.7\\2.75\\2.7\\2.65\\2.7\\
0\\2.75\\2.7\\2.8\\2.75\\2.7\\2.65\\2.75\\2.7\\2.8\\
2.75\\2.7\\2.75\\0\\2.7\\2.65\\2.75\\2.8\\2.7\\2.75\\
2.7\\2.8\\2.75\\2.7\\2.65\\2.7\\0\\2.75\\2.7\\2.8\\
2.7\\2.75\\2.8\\2.7\\2.75\\2.65\\2.7\\2.75\\2.8\\2.7\\
2.75\\0\\2.7\\2.8\\2.75\\2.7\\2.65\\2.75\\2.7\\2.8\\
2.7\\2.75\\2.7\\2.65\\0\\2.75\\2.8\\2.7\\2.75\\2.7\\
2.65\\2.8\\2.75\\2.7\\2.75\\2.7\\2.65\\2.8\\0\\2.7\\
2.75\\2.7\\2.8\\2.75\\2.7\\2.65\\2.75\\2.7\\2.8\\2.75\\
2.7\\0\\2.75\\2.7\\2.65\\2.75\\2.8\\2.7\\2.75\\2.7\\
2.8\\2.75\\2.7\\2.65\\2.75\\0\\2.7\\2.8\\2.75\\2.7\\
2.65\\2.75\\2.7\\2.8\\2.75\\2.7\\2.75\\2.65\\0\\2.7\\
2.75\\2.8\\2.7\\2.75\\2.7\\2.65\\2.75\\2.8\\2.7\\2.75\\
0\\2.7\\2.75\\2.8\\2.7\\2.65\\2.75\\2.7\\2.8\\2.75\\
};
\onee
\end{axis}

\begin{axis}[lgad, at={(23.5pt,-210pt)}, xmin=3168, xmax=3872]
\addplot[lbar] table[row sep=\\, header=false, x expr=\coordindex*4+3200, y index=0] {
2.65\\2.7\\2.6\\2.75\\2.7\\2.65\\2.7\\2.75\\0\\2.7\\
2.75\\2.7\\2.65\\2.75\\2.7\\2.8\\2.7\\2.75\\2.65\\2.7\\
2.7\\0\\2.75\\2.7\\2.8\\2.75\\2.7\\2.65\\2.75\\2.7\\
2.75\\2.7\\2.65\\2.75\\2.8\\2.7\\0\\2.75\\2.7\\2.65\\
2.75\\2.8\\2.7\\2.75\\2.7\\2.65\\2.75\\2.7\\2.8\\2.75\\
2.7\\2.65\\0\\2.75\\2.7\\2.8\\2.75\\2.7\\2.65\\2.75\\
2.7\\2.75\\2.8\\2.7\\2.65\\2.75\\2.7\\2.8\\2.75\\2.7\\
0\\0\\2.7\\2.75\\2.65\\2.7\\2.8\\2.75\\2.7\\2.65\\
2.75\\2.7\\2.8\\0\\2.7\\2.75\\2.7\\2.65\\2.75\\2.8\\
2.7\\2.75\\2.7\\2.65\\2.75\\2.7\\2.8\\2.75\\0\\2.7\\
2.75\\2.7\\2.65\\2.75\\2.8\\2.7\\2.75\\2.7\\2.65\\2.75\\
2.7\\0\\0\\2.75\\2.7\\2.8\\2.75\\2.7\\2.65\\2.75\\
2.7\\2.8\\2.75\\2.7\\2.65\\2.75\\2.7\\2.8\\0\\2.75\\
2.7\\2.65\\2.75\\2.7\\2.8\\2.75\\2.7\\2.65\\2.75\\2.7\\
2.8\\2.75\\0\\2.7\\2.65\\2.75\\2.7\\2.8\\2.75\\2.7\\
2.65\\2.75\\2.7\\2.8\\2.75\\2.7\\2.65\\0\\2.7\\2.75\\
};
\onee
\end{axis}

\begin{axis}[lgad, at={(23.5pt,-246pt)}, xmin=3808, xmax=4512]
\addplot[lbar] table[row sep=\\, header=false, x expr=\coordindex*4+3840, y index=0] {
0\\2.75\\2.65\\2.6\\2.55\\2.7\\2.65\\2.7\\2.75\\2.7\\
2.65\\2.75\\2.65\\2.7\\2.6\\0\\2.6\\2.7\\2.65\\2.75\\
2.6\\2.7\\2.65\\2.55\\2.7\\2.6\\2.7\\2.75\\2.7\\2.7\\
2.65\\2.7\\2.6\\0\\0\\2.7\\2.7\\2.55\\0\\2.6\\
2.65\\2.6\\2.6\\2.65\\2.55\\2.6\\0\\0\\2.55\\2.6\\
2.75\\0\\2.75\\2.7\\2.7\\2.75\\2.7\\2.75\\2.7\\2.6\\
2.65\\2.7\\2.6\\2.75\\2.75\\2.7\\0\\2.7\\2.7\\2.6\\
2.55\\2.7\\2.6\\2.65\\2.7\\2.65\\2.7\\0\\2.7\\2.75\\
2.75\\2.7\\2.75\\2.6\\2.75\\0\\0\\0\\0\\0\\
0\\0\\0\\0\\0\\0\\0\\0\\0\\0\\
0\\0\\0\\0\\0\\0\\0\\0\\0\\0\\
0\\0\\0\\0\\0\\0\\0\\0\\0\\0\\
0\\0\\0\\0\\0\\0\\2.75\\2.65\\2.55\\2.6\\
0\\2.6\\2.6\\2.6\\2.65\\2.6\\2.6\\2.7\\2.65\\2.6\\
2.7\\2.55\\2.7\\2.65\\2.6\\0\\2.65\\2.7\\2.6\\2.7\\
2.65\\2.55\\2.6\\2.65\\2.7\\2.65\\2.7\\2.6\\2.65\\2.6\\
};
\onee
\end{axis}

\begin{axis}[lgad, at={(23.5pt,-282pt)}, xmin=4448, xmax=5152]
\addplot[lbar] table[row sep=\\, header=false, x expr=\coordindex*4+4480, y index=0] {
0\\2.75\\2.7\\2.75\\2.65\\0\\0\\2.7\\2.65\\2.6\\
2.7\\2.6\\2.65\\2.7\\2.6\\2.75\\2.8\\2.7\\2.75\\2.75\\
2.65\\2.75\\2.7\\2.7\\2.75\\2.65\\2.7\\0\\2.7\\2.65\\
2.65\\2.7\\2.65\\2.7\\2.7\\0\\2.8\\2.75\\2.8\\0\\
2.65\\2.7\\2.65\\2.7\\2.65\\2.7\\0\\0\\0\\0\\
2.6\\2.7\\0\\2.75\\2.8\\2.75\\2.8\\2.75\\2.7\\2.75\\
2.8\\2.75\\2.8\\2.75\\2.8\\2.8\\0\\2.75\\2.7\\2.75\\
2.7\\2.7\\2.75\\2.75\\0\\2.7\\2.7\\2.75\\0\\2.7\\
2.65\\0\\2.75\\2.7\\2.75\\2.75\\2.7\\2.65\\0\\2.75\\
2.7\\2.65\\2.7\\2.75\\2.65\\2.7\\2.75\\0\\2.65\\2.7\\
2.65\\2.7\\2.7\\2.75\\2.8\\2.7\\0\\2.6\\2.7\\2.65\\
2.7\\2.75\\2.65\\2.7\\2.65\\2.7\\2.65\\2.7\\0\\2.75\\
2.7\\2.65\\2.7\\2.75\\0\\2.7\\2.65\\2.6\\2.75\\2.7\\
2.65\\2.75\\2.7\\2.6\\0\\2.7\\2.7\\2.65\\2.7\\2.75\\
2.7\\2.65\\2.8\\2.7\\2.75\\2.7\\2.75\\2.7\\0\\2.65\\
2.75\\2.7\\2.65\\2.75\\2.7\\0\\0\\2.7\\2.7\\2.75\\
};
\onee
\end{axis}

% ---------------- Diamond column ----------------
\begin{axis}[diam, at={(292.5pt,-29.5pt)}, xmin=-32, xmax=672]
\addplot[dbar] table[x expr=\coordindex*4, y index=0] {\dA};
\addplot[sbar] table[x expr=\coordindex*4, y index=1] {\dA};
\end{axis}
\begin{axis}[diam, at={(292.5pt,-65.5pt)}, xmin=608, xmax=1312]
\addplot[dbar] table[x expr=\coordindex*4+640, y index=0] {\dB};
\addplot[sbar] table[x expr=\coordindex*4+640, y index=1] {\dB};
\end{axis}
\begin{axis}[diam, at={(292.5pt,-101.5pt)}, xmin=1248, xmax=1952]
\addplot[dbar] table[x expr=\coordindex*4+1280, y index=0] {\dC};
\addplot[sbar] table[x expr=\coordindex*4+1280, y index=1] {\dC};
\end{axis}
\begin{axis}[diam, at={(292.5pt,-137pt)}, xmin=1888, xmax=2592]
\addplot[dbar] table[x expr=\coordindex*4+1920, y index=0] {\dD};
\addplot[sbar] table[x expr=\coordindex*4+1920, y index=1] {\dD};
\end{axis}
\begin{axis}[diam, at={(292.5pt,-173pt)}, xmin=2528, xmax=3232]
\addplot[dbar] table[x expr=\coordindex*4+2560, y index=0] {\dE};
\addplot[sbar] table[x expr=\coordindex*4+2560, y index=1] {\dE};
\end{axis}
\begin{axis}[diam, at={(292.5pt,-208.5pt)}, xmin=3168, xmax=3872]
\addplot[dbar] table[x expr=\coordindex*4+3200, y index=0] {\dF};
\addplot[sbar] table[x expr=\coordindex*4+3200, y index=1] {\dF};
\end{axis}
\begin{axis}[diam, at={(292.5pt,-244.5pt)}, xmin=3808, xmax=4512]
\addplot[dbar] table[x expr=\coordindex*4+3840, y index=0] {\dG};
\addplot[sbar] table[x expr=\coordindex*4+3840, y index=1] {\dG};
\end{axis}
\begin{axis}[diam, at={(292.5pt,-280.5pt)}, xmin=4448, xmax=5152]
\addplot[dbar] table[x expr=\coordindex*4+4480, y index=0] {\dH};
\addplot[sbar] table[x expr=\coordindex*4+4480, y index=1] {\dH};
\end{axis}

% ---------------- texts ----------------
\node[font=\carlito\bfseries\fontsize{9.8}{12}\selectfont, anchor=base] at (130pt,-19.5pt) {15pixels LGAD};
\node[font=\carlito\bfseries\fontsize{9.8}{12}\selectfont, anchor=base] at (413pt,-19.5pt) {140um Diamond};
\node[font=\fontsize{4.2}{5}\selectfont, anchor=base, text=black!85] at (134pt,-28.5pt) {BIL\_CH2\_hist\_20251110\_9h0m0s\_rotated\_thres0\_ave800};
\node[font=\fontsize{4.2}{5}\selectfont, anchor=base, text=black!85] at (402pt,-27.5pt) {BIL\_CH3\_hist\_20251110\_9h0m0s\_rotated\_thres0\_ave800};
\node[font=\carlito\bfseries\fontsize{10}{12}\selectfont, text=red, anchor=base] at (283pt,-26.5pt) {No Collision};
\node[font=\carlito\bfseries\fontsize{10}{12}\selectfont, text=red, anchor=base] at (283pt,-38.5pt) {LGAD signals are much larger than Diamond};
\node[rotate=90, font=\fontsize{5.5}{6}\selectfont] at (10.5pt,-168pt) {BBB Lum [arb. units]};
\node[rotate=90, font=\fontsize{5.5}{6}\selectfont] at (279.5pt,-168.5pt) {BBB Lum [arb. units]};
\node[font=\fontsize{5.5}{6}\selectfont] at (134pt,-313.5pt) {Bucket number [\#]};
\node[font=\fontsize{5.5}{6}\selectfont] at (402pt,-315.5pt) {Bucket number [\#]};
\end{tikzpicture}
\end{document}
